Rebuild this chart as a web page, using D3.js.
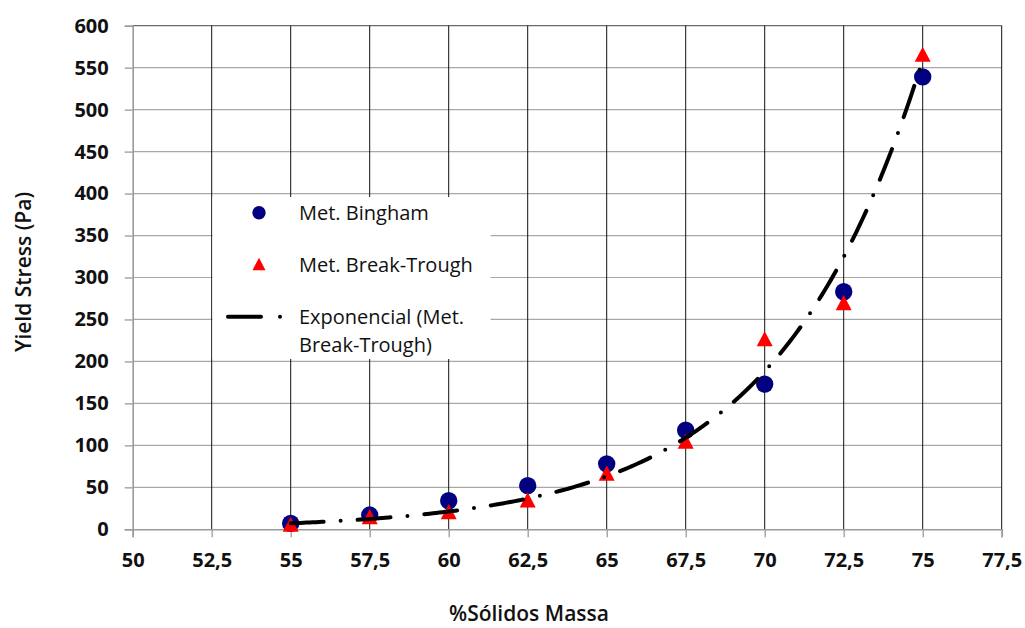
<!DOCTYPE html>
<html>
<head>
<meta charset="utf-8">
<script src="https://cdn.jsdelivr.net/npm/d3@7"></script>
<style>
  html, body { margin: 0; padding: 0; background: #fff; }
  svg { display: block; }
  text { font-family: "Open Sans", Lato, sans-serif; fill: #111; }
</style>
</head>
<body>
<svg id="chart" width="1025" height="628"></svg>
<script>
// % solids by mass and measured yield stress (Pa)
const solids = [55, 57.5, 60, 62.5, 65, 67.5, 70, 72.5, 75];
const bingham = [7, 17, 34, 52, 78, 118, 173, 283, 539];
const breakTrough = [6, 15, 21, 35, 67, 105, 227, 270, 566];

const xTicks = [50, 52.5, 55, 57.5, 60, 62.5, 65, 67.5, 70, 72.5, 75, 77.5];
const yTicks = [0, 50, 100, 150, 200, 250, 300, 350, 400, 450, 500, 550, 600];

const legendLabels = ["Met. Bingham", "Met. Break-Trough", ["Exponencial (Met.", "Break-Trough)"]];
const xTitle = "%Sólidos Massa";
const yTitle = "Yield Stress (Pa)";

const svg = d3.select("#chart");

const x = d3.scaleLinear().domain([50, 77.5]).range([132.7, 1001.7]);
const y = d3.scaleLinear().domain([0, 600]).range([529.3, 25.7]);
const fmt = d => String(d).replace(".", ",");

// horizontal gridlines
svg.append("g").selectAll("line")
  .data(yTicks.filter(d => d > 0 && d < 600))
  .join("line")
  .attr("x1", x(50)).attr("x2", x(77.5))
  .attr("y1", d => y(d)).attr("y2", d => y(d))
  .attr("stroke", "#a8a8a8").attr("stroke-width", 1.2);

// top border
svg.append("line")
  .attr("x1", x(50)).attr("x2", x(77.5))
  .attr("y1", y(600)).attr("y2", y(600))
  .attr("stroke", "#6a6a6a").attr("stroke-width", 1.3);

// vertical gridlines
svg.append("g").selectAll("line")
  .data(xTicks.filter(d => d > 50))
  .join("line")
  .attr("x1", d => x(d)).attr("x2", d => x(d))
  .attr("y1", y(600)).attr("y2", y(0))
  .attr("stroke", "#111").attr("stroke-width", 1);

// axes
const xAxis = d3.axisBottom(x).tickValues(xTicks).tickFormat(fmt).tickSize(8).tickPadding(11);
const yAxis = d3.axisLeft(y).tickValues(yTicks).tickFormat(d => d).tickSize(8).tickPadding(16);

const gx = svg.append("g").attr("transform", `translate(0,${y(0)})`).call(xAxis);
const gy = svg.append("g").attr("transform", `translate(${x(50)},0)`).call(yAxis);

[gx, gy].forEach(g => {
  g.select(".domain").attr("stroke", "#9a9a9a").attr("stroke-width", 1.6);
  g.selectAll(".tick line").attr("stroke", "#9a9a9a").attr("stroke-width", 1.3);
  g.selectAll(".tick text")
    .style("font-family", "'Open Sans', Lato, sans-serif")
    .style("font-size", "20px").style("font-weight", 700).attr("fill", "#111");
});
gx.selectAll(".tick text").attr("dy", "0.95em");

// axis titles
svg.append("text")
  .attr("x", 529).attr("y", 621)
  .attr("text-anchor", "middle")
  .style("font-size", "21px").style("font-weight", 600)
  .text(xTitle);

svg.append("text")
  .attr("transform", "translate(31,272) rotate(-90)")
  .attr("text-anchor", "middle")
  .style("font-size", "21px").style("font-weight", 600)
  .text(yTitle);

// fitted exponential trend of the Break-Trough series (least squares on ln y)
const lnY = breakTrough.map(Math.log);
const mx = d3.mean(solids), my = d3.mean(lnY);
const b = d3.sum(solids, (v, i) => (v - mx) * (lnY[i] - my)) / d3.sum(solids, v => (v - mx) ** 2);
const a = Math.exp(my - b * mx);
const trend = d3.range(solids[0], solids[solids.length - 1] + 0.001, 0.1).map(v => [v, a * Math.exp(b * v)]);

// upward triangle marker of width w
const triPath = (w) => {
  const h = w * 0.95;
  return `M0,${-h / 2}L${w / 2},${h / 2}L${-w / 2},${h / 2}Z`;
};

svg.append("g").selectAll("circle")
  .data(solids)
  .join("circle")
  .attr("cx", d => x(d)).attr("cy", (d, i) => y(bingham[i]))
  .attr("r", 8.7).attr("fill", "#000080");

svg.append("g").selectAll("path")
  .data(solids)
  .join("path")
  .attr("transform", (d, i) => `translate(${x(d)},${y(breakTrough[i])})`)
  .attr("d", triPath(16)).attr("fill", "#ff0000");

svg.append("path")
  .datum(trend)
  .attr("d", d3.line().x(d => x(d[0])).y(d => y(d[1])))
  .attr("fill", "none").attr("stroke", "#000").attr("stroke-width", 4)
  .attr("stroke-linecap", "round").attr("stroke-dasharray", "33,17,0,17");

// legend
const lg = svg.append("g");
lg.append("rect").attr("x", 212.5).attr("y", 197).attr("width", 278).attr("height", 162).attr("fill", "#fff");
lg.append("circle").attr("cx", 259).attr("cy", 212.7).attr("r", 6.7).attr("fill", "#000080");
lg.append("path").attr("transform", "translate(259,264)").attr("d", triPath(13)).attr("fill", "#ff0000");
lg.append("line").attr("x1", 228).attr("x2", 261).attr("y1", 316.7).attr("y2", 316.7)
  .attr("stroke", "#000").attr("stroke-width", 4).attr("stroke-linecap", "round");
lg.append("circle").attr("cx", 280).attr("cy", 316.7).attr("r", 2).attr("fill", "#000");

const lgText = (t, yy) => lg.append("text").attr("x", 299).attr("y", yy)
  .style("font-size", "20px").style("font-weight", 500).text(t);
lgText(legendLabels[0], 219.5);
lgText(legendLabels[1], 271.5);
lgText(legendLabels[2][0], 323.5);
lgText(legendLabels[2][1], 351.5);
</script>
</body>
</html>
